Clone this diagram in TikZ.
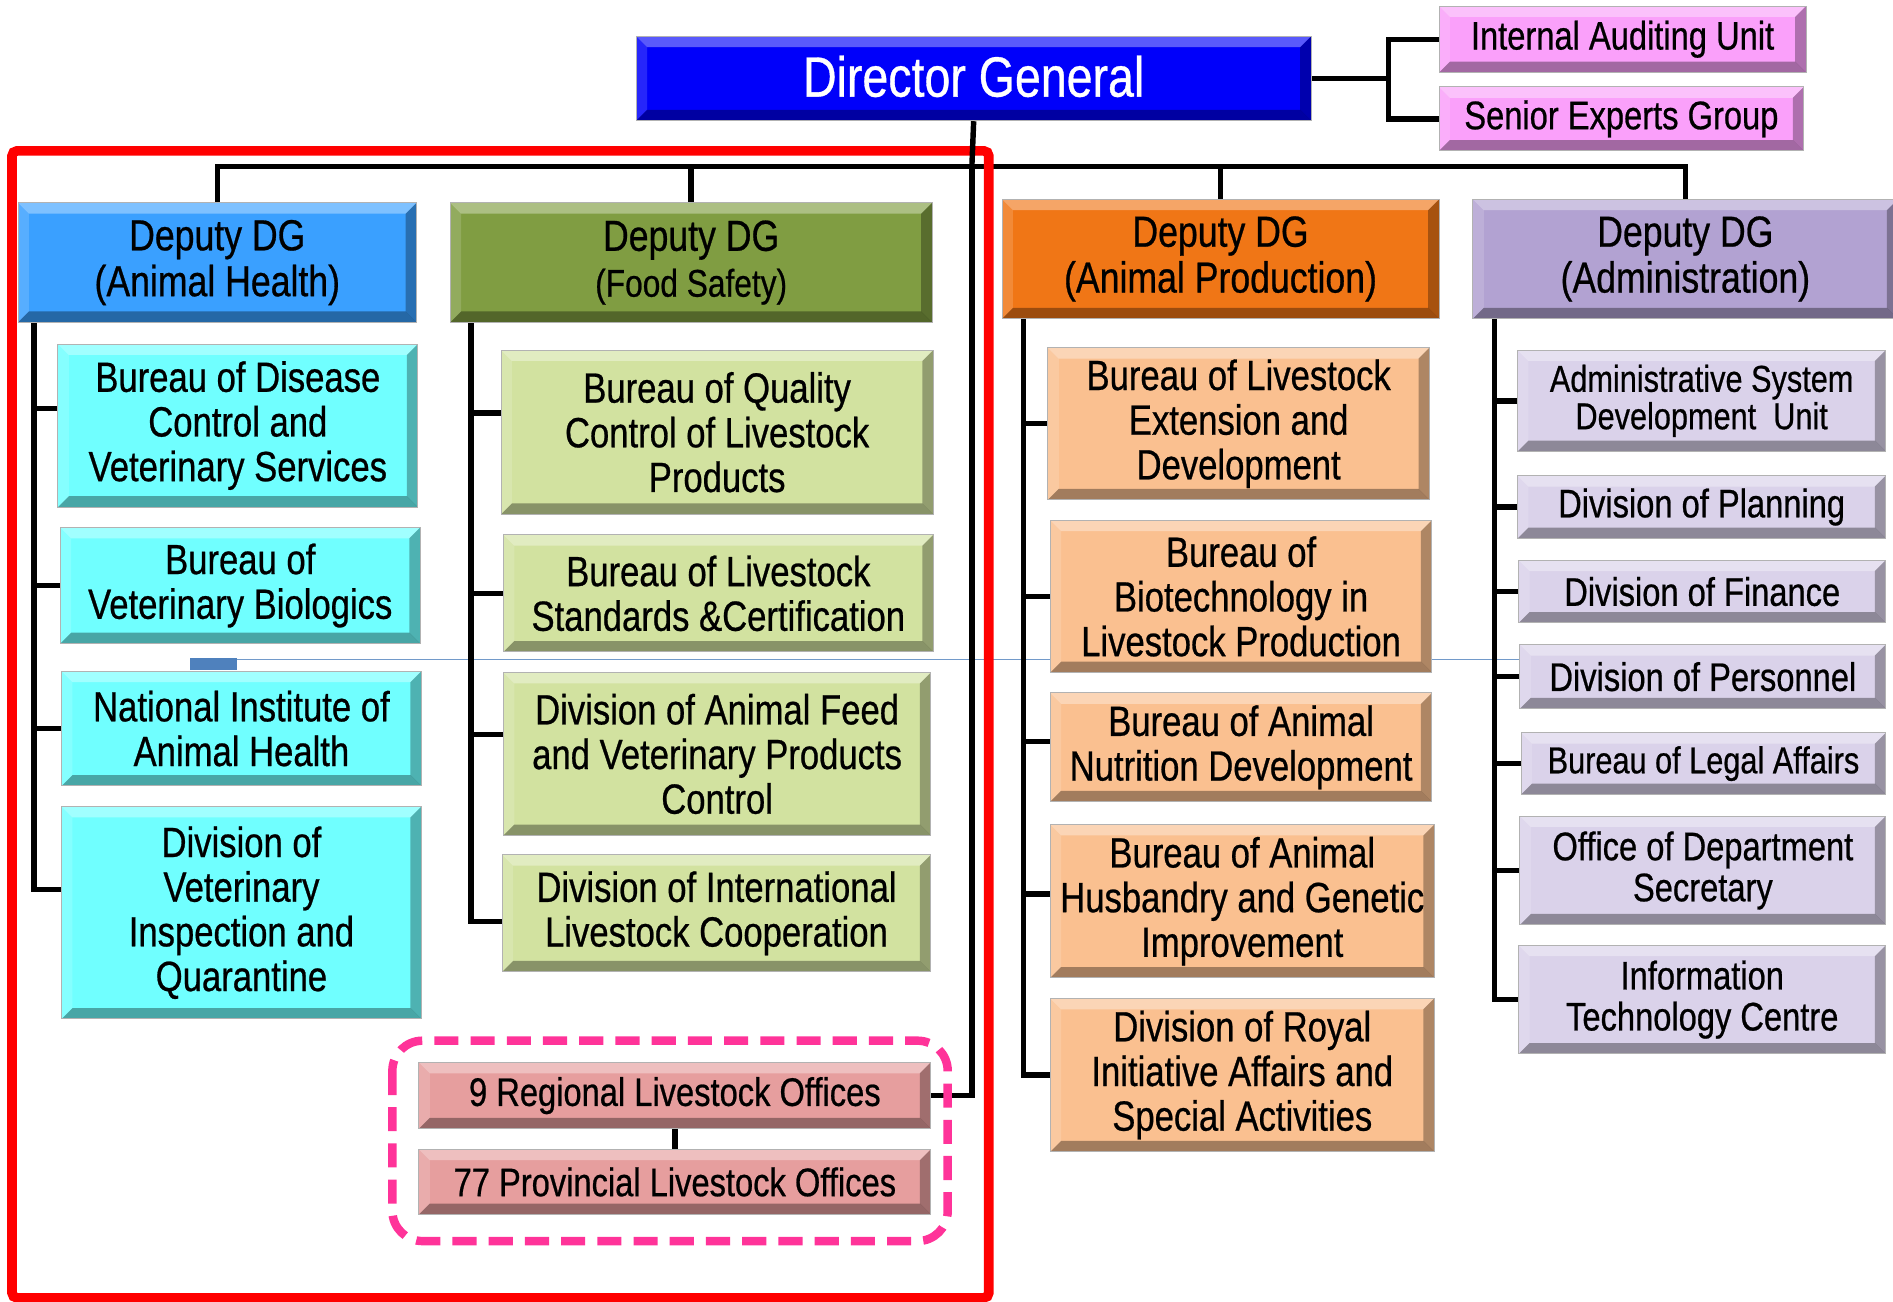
\documentclass[tikz,border=0pt]{standalone}
\usepackage{fontspec}
\setmainfont{Liberation Sans}[FakeStretch=0.82,FakeBold=0.6]
\usetikzlibrary{backgrounds}
\definecolor{dgblue}{RGB}{0,0,250}
\definecolor{topPink}{RGB}{250,160,250}
\definecolor{ahBlue}{RGB}{58,160,255}
\definecolor{fsGreen}{RGB}{128,157,66}
\definecolor{apOrange}{RGB}{240,118,22}
\definecolor{adPurple}{RGB}{178,162,210}
\definecolor{ahChild}{RGB}{112,255,255}
\definecolor{fsChild}{RGB}{210,226,160}
\definecolor{apChild}{RGB}{250,192,144}
\definecolor{adChild}{RGB}{218,210,234}
\definecolor{regPink}{RGB}{230,158,158}
\definecolor{grpPink}{RGB}{255,51,153}
\definecolor{artBlue}{RGB}{79,129,189}
\tikzset{
  bev/.style={path picture={
    \path (path picture bounding box.north west) coordinate (pA)
          (path picture bounding box.north east) coordinate (pB)
          (path picture bounding box.south east) coordinate (pC)
          (path picture bounding box.south west) coordinate (pD);
    \fill[white,opacity=.35] (pA) -- (pB) -- ([shift={(-9pt,-9pt)}]pB) -- ([shift={(9pt,-9pt)}]pA) -- cycle;
    \fill[white,opacity=.15] (pA) -- ([shift={(9pt,-9pt)}]pA) -- ([shift={(9pt,9pt)}]pD) -- (pD) -- cycle;
    \fill[black,opacity=.30] (pB) -- (pC) -- ([shift={(-9pt,9pt)}]pC) -- ([shift={(-9pt,-9pt)}]pB) -- cycle;
    \fill[black,opacity=.35] (pD) -- (pC) -- ([shift={(-9pt,9pt)}]pC) -- ([shift={(9pt,9pt)}]pD) -- cycle;
  }},
  box/.style={bev, draw=black!30, line width=0.8pt, inner sep=0pt, align=center,
    font=\fontsize{35}{37}\selectfont},
  conn/.style={line width=4.5pt, draw=black},
  admin/.style={fill=adChild, font=\fontsize{33}{34}\selectfont},
}
\newcommand{\bx}[7]{\node[box,#6,minimum width={(#4-#2)*1pt},minimum height={(#5-#3)*1pt}] (#1) at ({(#2+#4)/2},{-(#3+#5)/2}) {#7};}
\begin{document}
\begin{tikzpicture}[x=1pt,y=1pt]
\useasboundingbox (0,0) rectangle (1568,-1078);
% top
\bx{dg}{527}{30}{1086}{100}{fill=dgblue,text=white,font=\fontsize{47}{48}\selectfont,text depth=4pt}{Director General}
\bx{iau}{1192}{5}{1496}{60}{fill=topPink,font=\fontsize{33}{35}\selectfont}{Internal Auditing Unit}
\bx{seg}{1192}{72}{1494}{125}{fill=topPink,font=\fontsize{33}{35}\selectfont}{Senior Experts Group}
% deputies
\bx{ah}{15}{168}{345}{267}{fill=ahBlue,font=\fontsize{36}{38}\selectfont}{Deputy DG\\(Animal Health)}
\bx{fs}{373}{168}{772}{267}{fill=fsGreen,font=\fontsize{36}{38}\selectfont}{Deputy DG\\{\fontsize{32}{34}\selectfont (Food Safety)}}
\bx{ap}{830}{165}{1192}{264}{fill=apOrange,font=\fontsize{36}{38}\selectfont}{Deputy DG\\(Animal Production)}
\bx{ad}{1220}{165}{1572}{264}{fill=adPurple,font=\fontsize{36}{38}\selectfont}{Deputy DG\\(Administration)}
% animal health
\bx{ah1}{48}{285}{346}{420}{fill=ahChild}{Bureau of Disease\\Control and\\Veterinary Services}
\bx{ah2}{50}{437}{348}{533}{fill=ahChild}{Bureau of\\Veterinary Biologics}
\bx{ah3}{51}{556}{349}{651}{fill=ahChild}{National Institute of\\Animal Health}
\bx{ah4}{51}{668}{349}{844}{fill=ahChild}{Division of\\Veterinary\\Inspection and\\Quarantine}
% food safety
\bx{fs1}{415}{290}{773}{426}{fill=fsChild}{Bureau of Quality\\Control of Livestock\\Products}
\bx{fs2}{417}{443}{773}{540}{fill=fsChild}{Bureau of Livestock\\Standards \&Certification}
\bx{fs3}{417}{557}{771}{692}{fill=fsChild}{Division of Animal Feed\\and Veterinary Products\\Control}
\bx{fs4}{416}{708}{771}{805}{fill=fsChild}{Division of International\\Livestock Cooperation}
% animal production
\bx{ap1}{868}{288}{1184}{414}{fill=apChild}{Bureau of Livestock\\Extension and\\Development}
\bx{ap2}{870}{431}{1186}{557}{fill=apChild}{Bureau of\\Biotechnology in\\Livestock Production}
\bx{ap3}{870}{574}{1186}{664}{fill=apChild}{Bureau of Animal\\Nutrition Development}
\bx{ap4}{870}{683}{1188}{810}{fill=apChild}{Bureau of Animal\\Husbandry and Genetic\\Improvement}
\bx{ap5}{870}{827}{1188}{954}{fill=apChild}{Division of Royal\\Initiative Affairs and\\Special Activities}
% administration
\bx{ad1}{1257}{290}{1562}{374}{admin,font=\fontsize{31}{31}\selectfont}{Administrative System\\Development\ \ Unit}
\bx{ad2}{1257}{394}{1562}{446}{admin}{Division of Planning}
\bx{ad3}{1258}{464}{1562}{516}{admin}{Division of Finance}
\bx{ad4}{1259}{534}{1562}{587}{admin}{Division of Personnel}
\bx{ad5}{1260}{607}{1562}{658}{admin,font=\fontsize{31}{33}\selectfont}{Bureau of Legal Affairs}
\bx{ad6}{1259}{676}{1562}{766}{admin}{Office of Department\\Secretary}
\bx{ad7}{1258}{783}{1562}{873}{admin}{Information\\Technology Centre}
% regional
\bx{reg}{347}{880}{771}{935}{fill=regPink,font=\fontsize{33}{35}\selectfont}{9 Regional Livestock Offices}
\bx{prov}{347}{952}{771}{1006}{fill=regPink,font=\fontsize{33}{35}\selectfont}{77 Provincial Livestock Offices}

\coordinate (tj) at (1150,-65);
\coordinate (bus) at (805,-138);
\coordinate (ahs) at (28,-267);
\coordinate (fss) at (390,-267);
\coordinate (aps) at (848,-264);
\coordinate (ads) at (1238,-264);

\begin{pgfonlayer}{background}
  \fill[artBlue] (157,-545) rectangle (196,-555);
  \draw[artBlue!80!white, line width=1pt] (196,-546) -- (1259,-546);
  \draw[conn] (dg.east) -- (tj);
  \draw[conn] (tj) |- (iau.west);
  \draw[conn] (tj) |- (seg.west);
  \draw[conn] (bus) -| (ah.north);
  \draw[conn] (bus) -| (fs.north);
  \draw[conn] (bus) -| (ap.north);
  \draw[conn] (bus) -| (ad.north);
  \draw[conn] (reg.east) -| (bus);
  \draw[conn] (reg.south) -- (prov.north);
  \draw[conn] (ahs) |- ([yshift=14pt]ah1.west);
  \draw[conn] (ahs) |- (ah2.west);
  \draw[conn] (ahs) |- (ah3.west);
  \draw[conn] (ahs) |- ([yshift=19pt]ah4.west);
  \draw[conn] (fss) |- ([yshift=16pt]fs1.west);
  \draw[conn] (fss) |- (fs2.west);
  \draw[conn] (fss) |- ([yshift=16pt]fs3.west);
  \draw[conn] (fss) |- ([yshift=-7pt]fs4.west);
  \draw[conn] (aps) |- (ap1.west);
  \draw[conn] (aps) |- (ap2.west);
  \draw[conn] (aps) |- ([yshift=5pt]ap3.west);
  \draw[conn] (aps) |- ([yshift=6pt]ap4.west);
  \draw[conn] (aps) |- (ap5.west);
  \draw[conn] (ads) |- (ad1.west);
  \draw[conn] (ads) |- (ad2.west);
  \draw[conn] (ads) |- (ad3.west);
  \draw[conn] (ads) |- (ad4.west);
  \draw[conn] (ads) |- (ad5.west);
  \draw[conn] (ads) |- (ad6.west);
  \draw[conn] (ads) |- (ad7.west);
\end{pgfonlayer}

% highlight frames
\draw[red, line width=8pt, rounded corners=4pt] (10,-125) rectangle (819,-1075);
\draw[grpPink, line width=7pt, dash pattern=on 20pt off 10pt, rounded corners=25pt] (325,-862) rectangle (785,-1028);
\draw[conn] (dg.south) -- (bus);
\end{tikzpicture}
\end{document}
